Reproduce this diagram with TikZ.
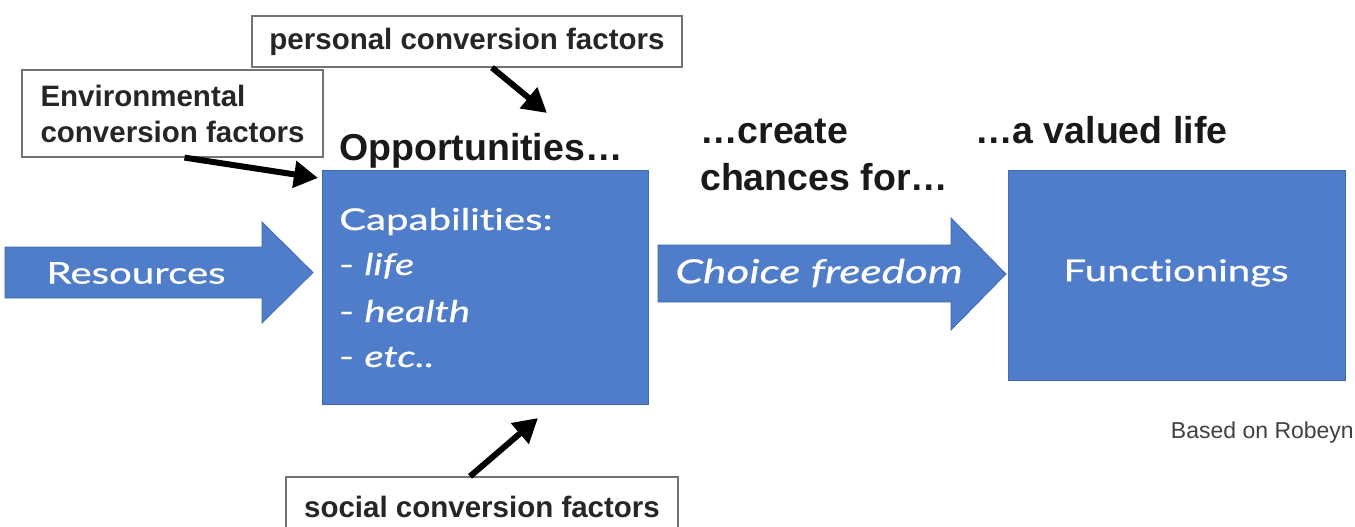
\documentclass[tikz,border=0pt]{standalone}
\usepackage{fontspec}
\setmainfont{Liberation Sans}
\newfontfamily\avfont[Ligatures={NoCommon}, FakeStretch=1.34, FakeBold=0.6]{Lato}
\usetikzlibrary{arrows.meta}
\definecolor{pptblue}{RGB}{79,125,201}
\definecolor{pptedge}{RGB}{66,106,176}
\tikzset{
  labelbox/.style={draw=black!55, line width=1.2pt, fill=white, text=black!85,
    font=\bfseries\fontsize{29.5}{36}\selectfont, inner sep=0pt},
  bluebox/.style={fill=pptblue, draw=pptedge, line width=0.8pt, inner sep=0pt},
  bluearrow/.style={fill=pptblue, draw=pptedge, line width=0.8pt},
  factorarrow/.style={line width=6pt, -{Triangle[length=24pt,width=26pt]}},
  headtext/.style={font=\bfseries\fontsize{37.5}{46}\selectfont, text=black!90, inner sep=0pt},
  whitetext/.style={text=white, font=\avfont\fontsize{30}{36}\selectfont, inner sep=0pt},
  notetext/.style={text=black!75, font=\fontsize{23}{28}\selectfont, inner sep=0pt}
}
\begin{document}
\begin{tikzpicture}[x=1pt,y=-1pt]
\useasboundingbox (0,0) rectangle (1355,527);

% blue block arrows
\draw[bluearrow] (5,247) -- (262,247) -- (262,222) -- (313,272.5) -- (262,323) -- (262,298) -- (5,298) -- cycle;
\draw[bluearrow] (658,245) -- (951,245) -- (951,218) -- (1006,274) -- (951,330) -- (951,302) -- (658,302) -- cycle;
\node[whitetext] (res) at (136,273) {Resources};
\node[whitetext, font=\avfont\itshape\fontsize{33}{38}\selectfont] (choice) at (819,273) {Choice freedom};

% blue boxes
\node[bluebox, minimum width=326pt, minimum height=234pt] (cap) at (485,287) {};
\node[bluebox, minimum width=337pt, minimum height=210pt] (func) at (1176.5,275) {};
\node[whitetext] (functxt) at (1176,273) {Functionings};

\node[whitetext, anchor=base west] (c0) at (339,230) {Capabilities:};
\node[whitetext, anchor=base west] (c1) at (339,275) {- \itshape life};
\node[whitetext, anchor=base west] (c2) at (339,322) {- \itshape health};
\node[whitetext, anchor=base west] (c3) at (339,367) {- \itshape etc..};

% header texts
\node[headtext, anchor=base west] (opp) at (339,160) {Opportunities…};
\node[headtext, anchor=base west] (cr1) at (700,143) {…create};
\node[headtext, anchor=base west] (cr2) at (700,190) {chances for…};
\node[headtext, anchor=base west] (val) at (975,143) {…a valued life};

% conversion factor boxes
\node[labelbox, minimum width=430pt, minimum height=51pt] (pers) at (467,41.5) {personal conversion factors};
\node[labelbox, minimum width=301pt, minimum height=87pt, align=left] (env) at (172.5,113.5) {Environmental\\conversion factors};
\node[labelbox, minimum width=392pt, minimum height=60pt] (soc) at (482,507) {social conversion factors};

% factor arrows
\coordinate (ptip) at (547,113);
\coordinate (etip) at (318,178);
\coordinate (stip) at (538,418);
\draw[factorarrow] ([xshift=25pt]pers.south) -- (ptip);
\draw[factorarrow] ([xshift=12pt]env.south) -- (etip);
\draw[factorarrow] ([xshift=-12pt]soc.north) -- (stip);

\node[notetext, anchor=base east] (note) at (1354,438) {Based on Robeyn};
\end{tikzpicture}
\end{document}
